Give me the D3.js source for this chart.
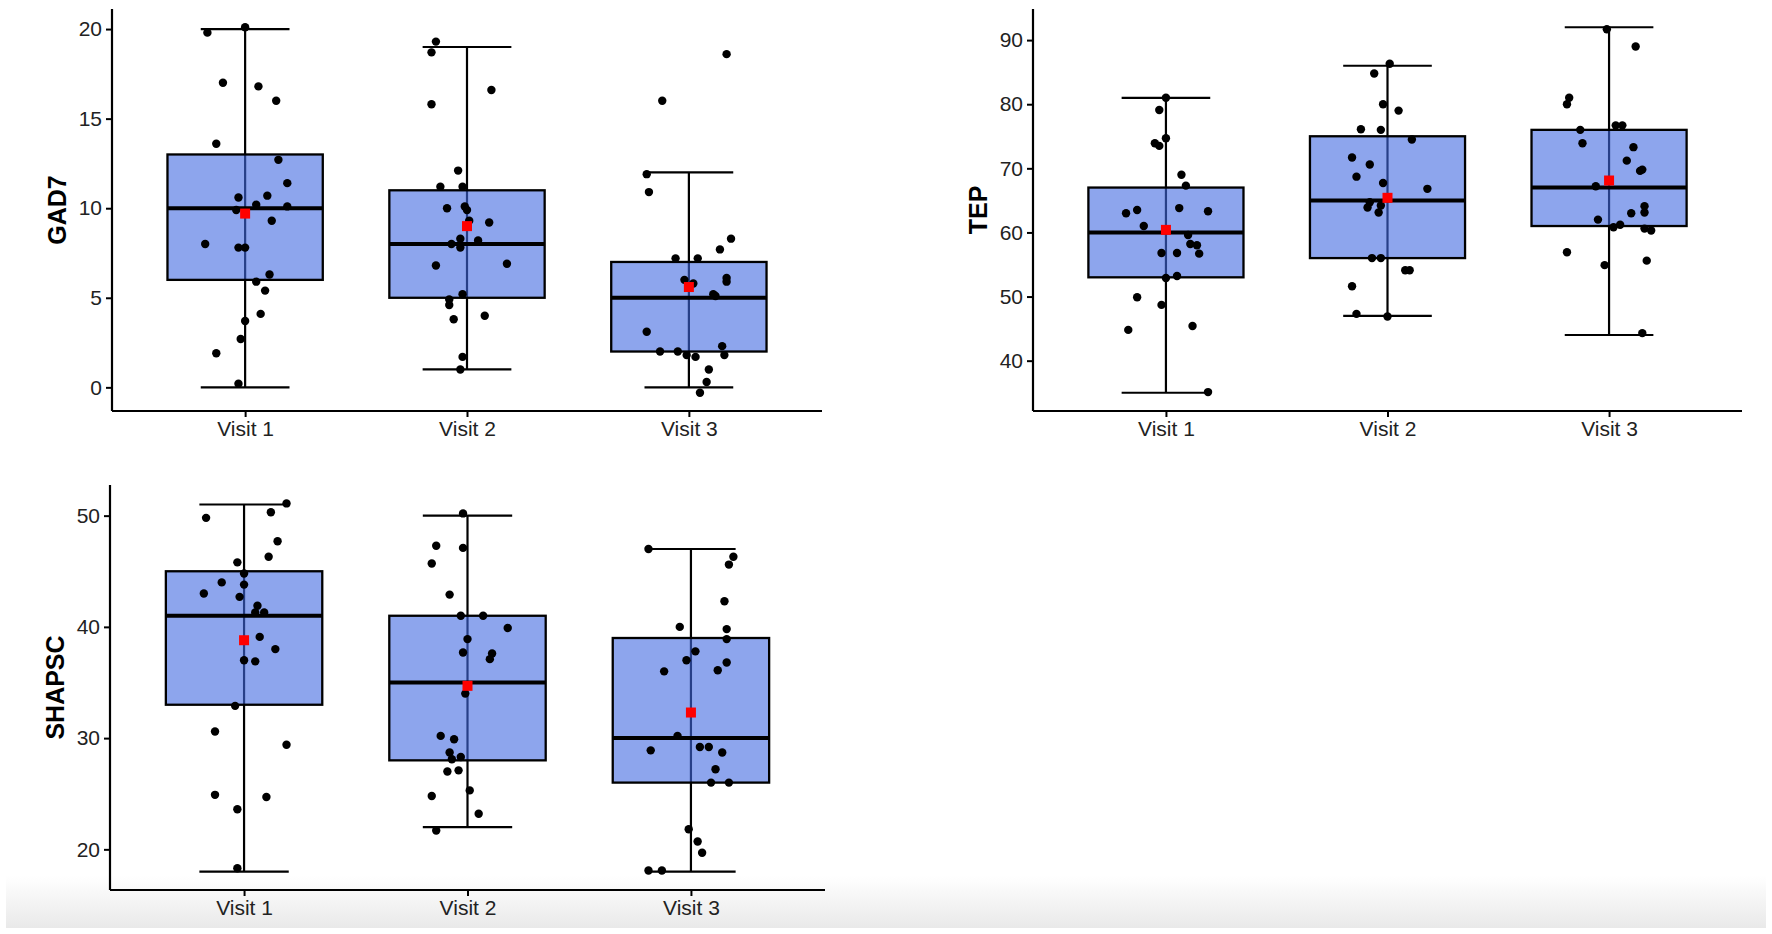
<!DOCTYPE html>
<html>
<head>
<meta charset="utf-8">
<script src="https://cdn.jsdelivr.net/npm/d3@7"></script>
<style>
body { margin: 0; background: #fff; }
svg { display: block; font-family: "Liberation Sans", Arial, sans-serif; }
</style>
</head>
<body>
<svg width="1772" height="934"></svg>
<script>
var visits = ['Visit 1', 'Visit 2', 'Visit 3']

// GAD7 - jittered points, one list per visit (jitter in category units)
var gad7Values = [
    [19.8, 20.1, 17.0, 16.8, 16.0, 13.6, 12.7, 11.4, 10.6, 10.7, 10.2, 10.1, 9.9, 9.3, 8.0, 7.8, 7.8, 6.3, 5.9, 5.4, 4.1, 3.7, 2.7, 1.9, 0.2],
    [19.3, 18.7, 16.6, 15.8, 12.1, 11.2, 11.2, 10.0, 10.1, 9.9, 9.3, 9.2, 8.0, 8.3, 7.8, 8.2, 6.8, 6.9, 5.2, 4.9, 4.6, 4.0, 3.8, 1.7, 1.0],
    [18.6, 16.0, 11.9, 10.9, 8.3, 7.7, 7.2, 7.2, 6.0, 5.8, 6.1, 5.9, 5.2, 5.1, 3.1, 2.0, 2.0, 1.8, 1.7, 2.3, 1.8, 1.0, 0.3, -0.3]
]
var gad7Jitter = [
    [-0.17, 0, -0.10, 0.06, 0.14, -0.13, 0.15, 0.19, -0.03, 0.10, 0.05, 0.19, -0.04, 0.12, -0.18, -0.03, 0.00, 0.11, 0.05, 0.09, 0.07, 0, -0.02, -0.13, -0.03],
    [-0.14, -0.16, 0.11, -0.16, -0.04, -0.12, -0.02, -0.09, -0.01, 0.00, 0.01, 0.10, -0.07, -0.03, -0.03, 0.05, -0.14, 0.18, -0.02, -0.08, -0.08, 0.08, -0.06, -0.02, -0.03],
    [0.17, -0.12, -0.19, -0.18, 0.19, 0.14, -0.06, 0.04, -0.02, 0.02, 0.17, 0.17, 0.11, 0.12, -0.19, -0.13, -0.05, -0.01, 0.03, 0.15, 0.16, 0.09, 0.08, 0.05]
]
var gad7Low = [0, 1, 0]
var gad7Q1 = [6, 5, 2]
var gad7Median = [10, 8, 5]
var gad7Q3 = [13, 11, 7]
var gad7High = [20, 19, 12]
var gad7Mean = [9.7, 9.0, 5.6]
var gad7Ticks = [0, 5, 10, 15, 20]

// TEP
var tepValues = [
    [81.0, 35.1, 79.1, 73.9, 73.5, 74.7, 69.0, 67.3, 63.0, 63.5, 63.8, 63.3, 61.0, 59.6, 58.2, 58.0, 56.7, 56.8, 56.8, 52.9, 53.2, 49.9, 48.7, 44.8, 45.4],
    [86.3, 84.8, 80.0, 79.0, 76.1, 76.0, 71.7, 70.6, 68.7, 67.7, 64.7, 63.9, 64.2, 63.1, 56.0, 56.0, 51.6, 47.3, 46.9, 74.5, 66.8, 54.1, 54.1],
    [91.7, 89.0, 81.0, 80.0, 76.0, 76.7, 76.7, 73.9, 73.3, 71.2, 69.6, 69.8, 67.2, 64.1, 63.1, 63.0, 62.0, 60.8, 61.2, 60.6, 60.3, 56.9, 54.9, 55.6, 44.3]
]
var tepJitter = [
    [0.00, 0.19, -0.03, -0.05, -0.03, 0, 0.07, 0.09, -0.18, -0.13, 0.06, 0.19, -0.10, 0.10, 0.11, 0.14, 0.15, -0.02, 0.05, 0.00, 0.05, -0.13, -0.02, -0.17, 0.12],
    [0.01, -0.06, -0.02, 0.05, -0.12, -0.03, -0.16, -0.08, -0.14, -0.02, -0.08, -0.09, -0.03, -0.04, -0.07, -0.03, -0.16, -0.14, 0.00, 0.11, 0.18, 0.08, 0.10],
    [-0.01, 0.12, -0.18, -0.19, -0.13, 0.03, 0.06, -0.12, 0.11, 0.08, 0.14, 0.15, -0.06, 0.16, 0.16, 0.10, -0.05, 0.02, 0.05, 0.16, 0.19, -0.19, -0.02, 0.17, 0.15]
]
var tepLow = [35, 47, 44]
var tepQ1 = [53, 56, 61]
var tepMedian = [60, 65, 67]
var tepQ3 = [67, 75, 76]
var tepHigh = [81, 86, 92]
var tepMean = [60.4, 65.4, 68.1]
var tepTicks = [40, 50, 60, 70, 80, 90]

// SHAPSC
var shapscValues = [
    [51.1, 49.8, 50.3, 47.7, 46.3, 45.8, 44.8, 44.0, 43.8, 43.0, 42.7, 41.9, 41.3, 41.3, 39.1, 38.0, 37.0, 36.9, 32.9, 30.6, 29.4, 24.9, 24.7, 23.6, 18.3],
    [50.2, 47.3, 47.1, 45.7, 42.9, 41.0, 41.0, 39.9, 38.9, 37.7, 37.6, 37.1, 34.0, 30.2, 29.9, 28.7, 28.1, 28.3, 27.0, 27.1, 25.3, 24.8, 23.2, 21.7],
    [47.0, 46.3, 45.6, 42.3, 40.0, 39.8, 38.9, 37.8, 37.0, 36.8, 36.1, 36.0, 30.2, 28.9, 29.2, 29.2, 28.7, 27.2, 26.0, 26.0, 21.8, 20.7, 19.7, 18.1, 18.1]
]
var shapscJitter = [
    [0.19, -0.17, 0.12, 0.15, 0.11, -0.03, 0, -0.10, 0.00, -0.18, -0.02, 0.06, 0.09, 0.05, 0.07, 0.14, 0.00, 0.05, -0.04, -0.13, 0.19, -0.13, 0.10, -0.03, -0.03],
    [-0.02, -0.14, -0.02, -0.16, -0.08, -0.03, 0.07, 0.18, 0.00, -0.02, 0.11, 0.10, -0.01, -0.12, -0.06, -0.08, -0.07, -0.03, -0.09, -0.04, 0.01, -0.16, 0.05, -0.14],
    [-0.19, 0.19, 0.17, 0.15, -0.05, 0.16, 0.16, 0.02, -0.02, 0.16, 0.12, -0.12, -0.06, -0.18, 0.04, 0.08, 0.14, 0.11, 0.09, 0.17, -0.01, 0.03, 0.05, -0.19, -0.13]
]
var shapscLow = [18, 22, 18]
var shapscQ1 = [33, 28, 26]
var shapscMedian = [41, 35, 30]
var shapscQ3 = [45, 41, 39]
var shapscHigh = [51, 50, 47]
var shapscMean = [38.8, 34.7, 32.3]
var shapscTicks = [20, 30, 40, 50]

var svg = d3.select('svg')

// soft grey band along the bottom of the picture
var grad = svg.append('defs').append('linearGradient')
    .attr('id', 'fade')
    .attr('x1', 0).attr('y1', 0).attr('x2', 0).attr('y2', 1)
grad.append('stop').attr('offset', '0%').attr('stop-color', '#ffffff')
grad.append('stop').attr('offset', '100%').attr('stop-color', '#e9e9e9')
svg.append('rect')
    .attr('x', 6).attr('y', 876)
    .attr('width', 1760).attr('height', 52)
    .attr('fill', 'url(#fade)')

var panels = [
    {title: 'GAD7', values: gad7Values, jitter: gad7Jitter, low: gad7Low, q1: gad7Q1, median: gad7Median, q3: gad7Q3, high: gad7High, mean: gad7Mean, ticks: gad7Ticks,
     left: 112, right: 822, top: 9, bottom: 411},
    {title: 'TEP', values: tepValues, jitter: tepJitter, low: tepLow, q1: tepQ1, median: tepMedian, q3: tepQ3, high: tepHigh, mean: tepMean, ticks: tepTicks,
     left: 1033, right: 1742, top: 9, bottom: 411},
    {title: 'SHAPSC', values: shapscValues, jitter: shapscJitter, low: shapscLow, q1: shapscQ1, median: shapscMedian, q3: shapscQ3, high: shapscHigh, mean: shapscMean, ticks: shapscTicks,
     left: 110, right: 825, top: 485, bottom: 890}
]

panels.forEach(drawPanel)

function drawPanel(p) {
    var g = svg.append('g')

    var x = d3.scalePoint()
        .domain(visits)
        .range([p.left, p.right])
        .padding(0.6)
    var step = x.step()

    // y limits: data range plus 5% on both sides
    var all = d3.merge(p.values).concat(p.low, p.high)
    var lo = d3.min(all), hi = d3.max(all)
    var pad = (hi - lo) * 0.05
    var y = d3.scaleLinear()
        .domain([lo - pad, hi + pad])
        .range([p.bottom, p.top])

    var stats = visits.map(function(v, i) {
        return {visit: v, low: p.low[i], q1: p.q1[i], median: p.median[i], q3: p.q3[i], high: p.high[i], mean: p.mean[i]}
    })

    // error bars (whiskers with caps)
    g.selectAll('.whisker')
        .data(stats)
        .enter()
        .append('line')
        .attr('x1', function(d) { return x(d.visit) })
        .attr('x2', function(d) { return x(d.visit) })
        .attr('y1', function(d) { return y(d.low) })
        .attr('y2', function(d) { return y(d.high) })
        .attr('stroke', '#000')
        .attr('stroke-width', 2.2)
    ;['low', 'high'].forEach(function(k) {
        g.selectAll('.cap-' + k)
            .data(stats)
            .enter()
            .append('line')
            .attr('x1', function(d) { return x(d.visit) - step * 0.2 })
            .attr('x2', function(d) { return x(d.visit) + step * 0.2 })
            .attr('y1', function(d) { return y(d[k]) })
            .attr('y2', function(d) { return y(d[k]) })
            .attr('stroke', '#000')
            .attr('stroke-width', 2.2)
    })

    // boxes
    g.selectAll('.box')
        .data(stats)
        .enter()
        .append('rect')
        .attr('x', function(d) { return x(d.visit) - step * 0.35 })
        .attr('width', step * 0.7)
        .attr('y', function(d) { return y(d.q3) })
        .attr('height', function(d) { return y(d.q1) - y(d.q3) })
        .attr('fill', 'royalblue')
        .attr('fill-opacity', 0.6)
        .attr('stroke', '#000')
        .attr('stroke-width', 2.3)
    g.selectAll('.median')
        .data(stats)
        .enter()
        .append('line')
        .attr('x1', function(d) { return x(d.visit) - step * 0.35 })
        .attr('x2', function(d) { return x(d.visit) + step * 0.35 })
        .attr('y1', function(d) { return y(d.median) })
        .attr('y2', function(d) { return y(d.median) })
        .attr('stroke', '#000')
        .attr('stroke-width', 4)

    // jittered points
    var pts = []
    p.values.forEach(function(list, i) {
        list.forEach(function(v, j) {
            pts.push({visit: visits[i], value: v, jit: p.jitter[i][j]})
        })
    })
    g.selectAll('.pt')
        .data(pts)
        .enter()
        .append('circle')
        .attr('cx', function(d) { return x(d.visit) + d.jit * step })
        .attr('cy', function(d) { return y(d.value) })
        .attr('r', 4.2)
        .attr('fill', '#000')

    // mean markers
    g.selectAll('.mean')
        .data(stats)
        .enter()
        .append('rect')
        .attr('x', function(d) { return x(d.visit) - 5 })
        .attr('y', function(d) { return y(d.mean) - 5 })
        .attr('width', 10)
        .attr('height', 10)
        .attr('fill', '#ff0000')

    // axes
    var yAxis = g.append('g')
        .attr('transform', 'translate(' + p.left + ',0)')
        .call(d3.axisLeft(y).tickValues(p.ticks).tickSize(6).tickPadding(4).tickSizeOuter(0))
    var xAxis = g.append('g')
        .attr('transform', 'translate(0,' + p.bottom + ')')
        .call(d3.axisBottom(x).tickSize(6).tickPadding(4).tickSizeOuter(0))

    ;[xAxis, yAxis].forEach(function(a) {
        a.select('.domain').attr('stroke', '#000').attr('stroke-width', 2.2)
        a.selectAll('.tick line').attr('stroke', '#000').attr('stroke-width', 2)
        a.selectAll('.tick text')
            .attr('fill', '#222')
            .style('font-size', '21px')
            .style('font-family', '"Liberation Sans", Arial, sans-serif')
    })
    // extend axis lines across the whole panel
    yAxis.select('.domain').attr('d', 'M0,' + p.top + 'V' + p.bottom)
    xAxis.select('.domain').attr('d', 'M' + p.left + ',0H' + p.right)

    g.append('text')
        .attr('transform', 'translate(' + (p.left - 55) + ',' + ((p.top + p.bottom) / 2) + ') rotate(-90)')
        .attr('text-anchor', 'middle')
        .attr('dy', '0.35em')
        .style('font-size', '25px')
        .style('font-weight', 'bold')
        .attr('fill', '#000')
        .text(p.title)
}
</script>
</body>
</html>
